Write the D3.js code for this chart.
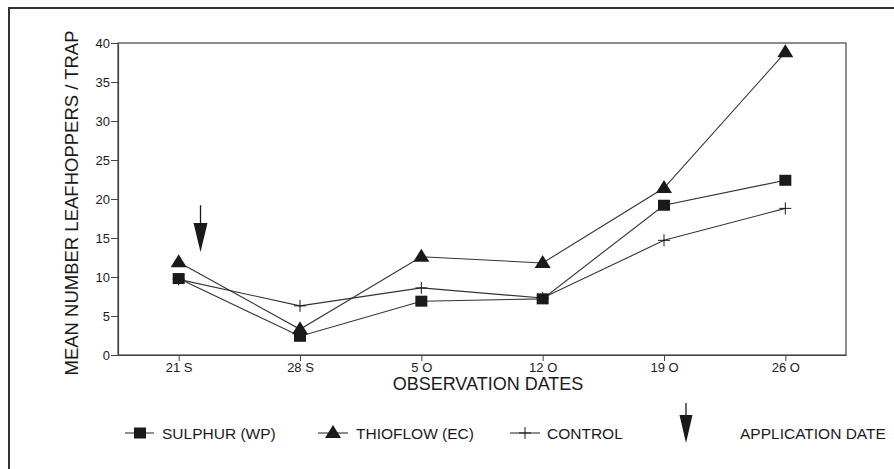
<!DOCTYPE html>
<html>
<head>
<meta charset="utf-8">
<script src="https://cdn.jsdelivr.net/npm/d3@7"></script>
<style>
  body { margin: 0; background: #fff; }
  svg { font-family: "Liberation Sans", Arial, sans-serif; }
</style>
</head>
<body>
<script>
// data
const dates = ["21 S", "28 S", "5 O", "12 O", "19 O", "26 O"];
const sulphur = [9.8, 2.4, 6.9, 7.2, 19.2, 22.4];
const thioflow = [11.9, 3.3, 12.6, 11.8, 21.4, 38.8];
const control = [9.7, 6.3, 8.6, 7.3, 14.7, 18.8];
const yTicks = [0, 5, 10, 15, 20, 25, 30, 35, 40];
const seriesNames = ["SULPHUR (WP)", "THIOFLOW (EC)", "CONTROL"];
const applicationDate = { after: "21 S", offset: 0.18, from: 19.2, to: 13.2 };

const width = 894;
const height = 469;
const margin = { top: 43, right: 48, bottom: 114, left: 118 };
const ink = "#1a1a1a";

const svg = d3.select("body").append("svg")
  .attr("width", width)
  .attr("height", height);

// outer frame (top and left only)
svg.append("path")
  .attr("d", `M9,${height} V8 H${width}`)
  .attr("fill", "none")
  .attr("stroke", "#333")
  .attr("stroke-width", 2);

const x = d3.scalePoint()
  .domain(dates)
  .range([margin.left, width - margin.right])
  .padding(0.5);

const y = d3.scaleLinear()
  .domain([0, 40])
  .range([height - margin.bottom, margin.top]);

// plot box
svg.append("rect")
  .attr("x", margin.left)
  .attr("y", margin.top)
  .attr("width", width - margin.left - margin.right)
  .attr("height", height - margin.top - margin.bottom)
  .attr("fill", "none")
  .attr("stroke", "#444")
  .attr("stroke-width", 1.2);

const xAxis = svg.append("g")
  .attr("transform", `translate(0,${height - margin.bottom})`)
  .call(d3.axisBottom(x).tickSize(6).tickSizeOuter(0).tickPadding(2));

const yAxis = svg.append("g")
  .attr("transform", `translate(${margin.left},0)`)
  .call(d3.axisLeft(y).tickValues(yTicks).tickSize(7).tickSizeOuter(0).tickPadding(1));

[xAxis, yAxis].forEach(g => {
  g.attr("font-size", 13).attr("font-family", null);
  g.select(".domain").attr("stroke", "#444").attr("stroke-width", 1.2);
  g.selectAll(".tick line").attr("stroke", "#444");
  g.selectAll(".tick text")
    .attr("fill", ink)
    .style("font-size", "13px");
});

// axis titles
svg.append("text")
  .attr("x", (margin.left + width - margin.right) / 2 + 6)
  .attr("y", 390)
  .attr("text-anchor", "middle")
  .attr("fill", ink)
  .style("font-size", "18px")
  .text("OBSERVATION DATES");

svg.append("text")
  .attr("transform", `translate(78,${(margin.top + height - margin.bottom) / 2 + 4}) rotate(-90)`)
  .attr("text-anchor", "middle")
  .attr("fill", ink)
  .style("font-size", "18.5px")
  .text("MEAN NUMBER LEAFHOPPERS / TRAP");

const line = d3.line()
  .x((d, i) => x(dates[i]))
  .y(d => y(d));

const series = [
  { name: seriesNames[0], values: sulphur, marker: "square" },
  { name: seriesNames[1], values: thioflow, marker: "triangle" },
  { name: seriesNames[2], values: control, marker: "cross" },
];

function drawMarker(g, type, cx, cy) {
  if (type === "square") {
    g.append("rect")
      .attr("x", cx - 6).attr("y", cy - 5.5)
      .attr("width", 12).attr("height", 11)
      .attr("fill", ink);
  } else if (type === "triangle") {
    g.append("path")
      .attr("d", `M${cx},${cy - 8} L${cx + 8},${cy + 5} L${cx - 8},${cy + 5} Z`)
      .attr("fill", ink);
  } else {
    g.append("path")
      .attr("d", `M${cx - 6},${cy} H${cx + 6} M${cx},${cy - 6} V${cy + 6}`)
      .attr("stroke", ink)
      .attr("stroke-width", 1);
  }
}

series.forEach(s => {
  svg.append("path")
    .datum(s.values)
    .attr("d", line)
    .attr("fill", "none")
    .attr("stroke", "#333")
    .attr("stroke-width", 1.1);
});

series.forEach(s => {
  const g = svg.append("g");
  s.values.forEach((v, i) => drawMarker(g, s.marker, x(dates[i]), y(v)));
});

function drawArrow(cx, top, tip, headLen, headW) {
  svg.append("line")
    .attr("x1", cx).attr("x2", cx)
    .attr("y1", top).attr("y2", tip - headLen)
    .attr("stroke", ink)
    .attr("stroke-width", 1.3);
  svg.append("path")
    .attr("d", `M${cx - headW / 2},${tip - headLen} L${cx + headW / 2},${tip - headLen} L${cx},${tip} Z`)
    .attr("fill", ink);
}

// application date arrow in plot
drawArrow(
  x(applicationDate.after) + applicationDate.offset * x.step(),
  y(applicationDate.from),
  y(applicationDate.to),
  29, 14
);

// legend
const legendY = 433;
const legendItems = [
  { name: seriesNames[0], marker: "square", x0: 125, x1: 154, mx: 140, tx: 162 },
  { name: seriesNames[1], marker: "triangle", x0: 318, x1: 348, mx: 333, tx: 356 },
  { name: seriesNames[2], marker: "cross", x0: 510, x1: 540, mx: 525, tx: 547 },
];
legendItems.forEach(it => {
  svg.append("line")
    .attr("x1", it.x0).attr("x2", it.x1)
    .attr("y1", legendY).attr("y2", legendY)
    .attr("stroke", "#333")
    .attr("stroke-width", 1.1);
  drawMarker(svg, it.marker, it.mx, legendY);
  svg.append("text")
    .attr("x", it.tx)
    .attr("y", legendY + 5.5)
    .attr("fill", ink)
    .style("font-size", "15.5px")
    .text(it.name);
});

drawArrow(686, 403, 443, 28, 13);
svg.append("text")
  .attr("x", 740)
  .attr("y", legendY + 5.5)
  .attr("fill", ink)
  .style("font-size", "15.5px")
  .text("APPLICATION DATE");
</script>
</body>
</html>
